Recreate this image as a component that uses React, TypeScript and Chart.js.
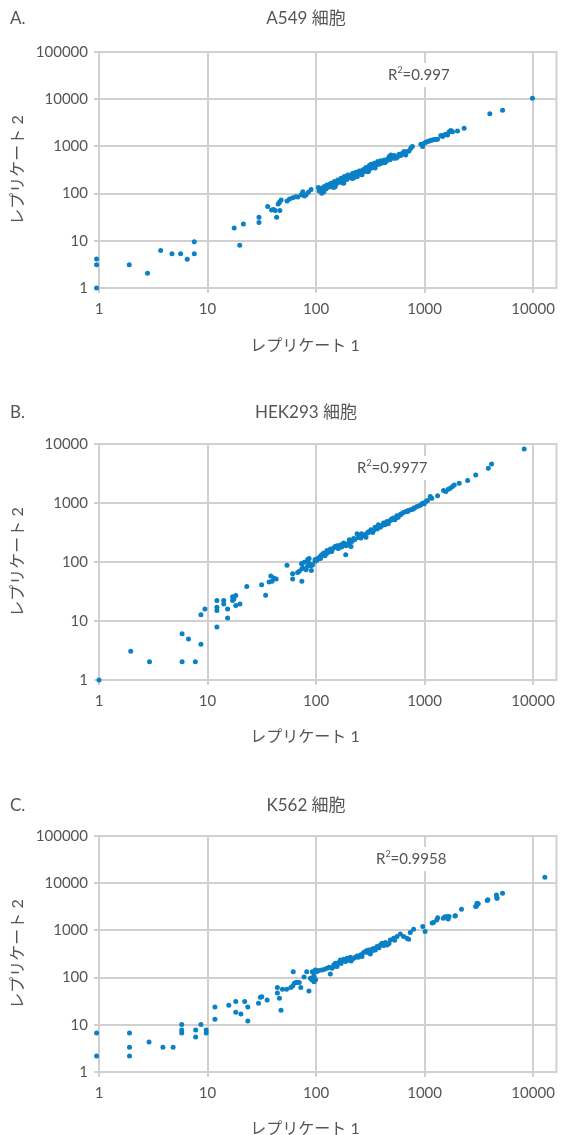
import React, { useEffect, useRef } from "react";
import { Chart, registerables } from "chart.js";

Chart.register(...registerables);

const FONT = "Lato, 'Noto Sans CJK JP', sans-serif";
const TEXT = "#555555";
const GRID = "#d0d0d0";
const POINT = "#0a80c6";

const decadeTicks = [1, 10, 100, 1000, 10000, 100000];
const xAxisTitle = "レプリケート 1";
const yAxisTitle = "レプリケート 2";
const panelLetters = ["A.", "B.", "C."];
const panelTitles = ["A549 細胞", "HEK293 細胞", "K562 細胞"];
const r2Values = ["0.997", "0.9977", "0.9958"];
const yMaxima = [100000, 10000, 100000];
const xMaximum = 16400;

const a549Rep1 = [
  0.95, 0.95, 0.95, 1.9, 2.8, 3.7, 4.7, 5.65, 6.5, 7.55, 7.55, 17.6, 19.8, 21.4, 29.8, 29.8, 35.8, 38.9, 40.5, 42, 43.3, 44.8, 46.4,
  46, 47.6, 54, 57, 61, 65, 68, 73, 75.4, 78, 81, 85, 90,
  107, 111, 113, 119, 124, 128, 133, 137.5, 142, 147.5, 153, 158.5, 164, 170, 176, 182,
  189, 196, 203, 210, 218, 225, 233, 242, 250, 259, 269, 278, 288, 299, 310, 321, 332, 344, 357,
  370, 383, 396, 410, 425, 440, 456, 472, 489, 506, 524, 543, 562, 582, 603, 625, 647, 670, 694, 719, 745, 771,
  925, 958, 993, 1028, 1065, 1103, 1143, 1184, 1226, 1270, 1316,
  1412, 1463, 1516, 1570, 1627, 1686, 1746, 1809, 2009, 2314,
  3990, 5230, 9860,
  115, 125, 135, 145, 155, 165, 175, 185, 195, 205, 215, 230, 240, 255, 265, 280, 300, 320, 340, 360,
  105, 118, 126, 139, 150, 160, 172, 180, 192, 200, 212, 222, 236, 248, 262, 275, 290, 305, 318, 335,
  350, 380, 400, 430, 450, 480, 520, 560, 600, 650,
];
const a549Rep2 = [
  4.1, 3.1, 1.0, 3.1, 2.05, 6.2, 5.3, 5.3, 4.05, 5.3, 9.6, 18.7, 8.0, 22.7, 31.5, 24.3, 53, 45, 46, 44, 31.5, 60, 44,
  65.5, 73, 70, 77, 82, 86, 85, 94, 110, 89, 94, 107, 122,
  114, 130, 102, 141, 126, 153, 138, 165, 148, 180, 158, 195, 174, 211, 185, 229,
  204, 249, 218, 241, 270, 229, 283, 257, 302, 270, 318, 293, 356, 318, 392, 419, 374, 439, 405,
  476, 432, 494, 461, 517, 476, 544, 608, 660, 579, 639, 562, 608, 683, 639, 712, 777, 660, 777, 802, 912, 990,
  1111, 990, 1166, 1224, 1265, 1306, 1349, 1371, 1394, 1394, 1417,
  1695, 1616, 1747, 1803, 1747, 2053, 2164, 2053, 2130, 2426,
  4890, 5850, 10500,
  125, 150, 160, 135, 175, 190, 170, 210, 225, 245, 210, 260, 230, 290, 250, 330, 290, 350, 400, 430,
  135, 110, 140, 150, 140, 180, 195, 165, 200, 230, 235, 215, 265, 280, 260, 300, 320, 300, 345, 360,
  350, 420, 440, 450, 500, 520, 560, 590, 660, 700,
];

const hek293Rep1 = [
  1, 1.96, 2.92, 5.83, 6.67, 5.83, 7.72, 8.69, 8.69, 9.46, 12.2, 12.2, 12.2, 12.2, 14.1, 14.1, 15.3, 15.3, 17, 17, 17.5, 18.2,
  18.2, 19.9, 23, 31.5, 34.3, 38.3, 36.9, 39.3, 40.8, 42.9, 54, 60.8, 60.8, 67.6, 74, 74, 74, 83.4, 83.4, 90.6, 86.3, 98,
  70, 73.8, 75.4, 78, 81, 83.8, 86.8, 90, 93,
  98, 102, 105, 109.6, 112.8, 117.7, 121, 126, 130, 135.5, 139.4, 145.4, 149.6, 156, 160.6, 167.5, 172, 179.6, 187.6, 189,
  195.6, 202.6, 207, 210,
  238.6, 250.6, 259, 268.7, 278.5, 288.5, 299, 309.7, 321, 332.4, 349.7, 365.2, 375, 390.8, 402, 419, 431, 449, 462, 482,
  496, 517, 532, 555, 571, 596, 613, 640, 673, 706, 749, 776, 804, 851, 894, 925, 958, 993, 1028, 1065, 1127, 1165,
  1317, 1496, 1571, 1650, 1723, 1806, 1875, 2085, 2493, 2958, 3862, 4142, 8270,
  215, 222, 228, 245, 262,
  110, 125, 140, 160, 175, 200, 225, 260, 300, 340, 380, 420, 460, 500, 550, 600, 700, 800,
];
const hek293Rep2 = [
  1, 3.08, 2.03, 6.08, 4.93, 2.03, 2.03, 4.05, 12.8, 16, 22.2, 17.1, 15, 7.9, 22.2, 19.5, 16, 11.2, 22.2, 25.7, 23.7, 27,
  18.3, 19.5, 38.5, 41, 27.4, 57.7, 45.6, 47.3, 53.8, 51.5, 87.7, 63.2, 51.5, 66.7, 93.7, 77, 47.3, 104, 85, 72, 115, 110,
  69.5, 94, 79, 98.7, 74, 110, 94, 86.7, 90,
  102.6, 106.7, 116.8, 124.7, 133, 142, 128, 157, 146, 166, 151, 172, 184, 189, 172, 194, 179, 209, 133, 189,
  204, 238, 215, 184,
  301, 272, 255, 279, 290, 264, 309, 330, 352, 317, 390, 362, 428, 390, 410, 456, 428, 486, 444, 506,
  533, 555, 520, 606, 576, 631, 656, 691, 718, 747, 765, 786, 816, 871, 894, 933, 993, 968, 1059, 1103, 1288, 1207,
  1322, 1627, 1565, 1713, 1782, 1900, 2028, 2164, 2399, 2992, 3878, 4590, 8230,
  225, 250, 240, 260, 300,
  115, 140, 160, 170, 200, 195, 245, 270, 320, 345, 400, 440, 470, 520, 560, 640, 720, 820,
];

const k562Rep1 = [
  0.95, 0.95, 1.91, 1.91, 1.91, 2.89, 3.88, 4.82, 5.78, 5.78, 5.78, 7.77, 7.77, 8.69, 9.72, 9.72, 11.7, 11.7, 15.7, 18.2,
  18.2, 20.3, 22, 23.5, 23.5, 29.5, 30.7, 31.6, 35.4, 44, 44, 46, 47.5, 49, 53.5, 58.5, 60.9, 61.6, 63, 65,
  67.6, 70, 72.3, 77.5, 82, 86, 92.4, 95.8, 95.8, 99,
  88.7, 91.9, 95.2, 96.5, 98.6, 102.1, 105.8, 113.5, 126.2, 135.4, 140.3, 145.3, 150.6, 156, 161.6, 167.5, 173.5, 179.8,
  186.2, 193, 200, 207, 214.6, 222, 230, 238.5, 255.8, 265, 274.5, 284.5, 294.7, 305.3, 316.4, 327.8, 339.6, 351.8, 364.5,
  377.7, 391.3, 405.4, 420, 435, 450.8, 483.8, 519, 557, 598, 641, 688, 713, 738, 792, 962, 1011, 1207, 1294, 1489, 1597,
  1906, 2187, 2954, 3040, 3774, 4592, 4660, 5226, 12830,
  1175, 1320, 1530, 1650, 1680, 1920, 3000, 3120, 3830, 4620,
  120, 132, 148, 170, 190, 210, 245, 260, 300, 330, 380, 420, 470, 530,
];
const k562Rep2 = [
  6.7, 2.18, 6.7, 3.33, 2.18, 4.33, 3.33, 3.33, 10.1, 7.8, 6.7, 7.8, 5.5, 10.1, 7.8, 6.7, 23.9, 13.1, 25.9, 31,
  18.4, 17, 31, 23.9, 12, 28.6, 38.3, 39.5, 33.6, 61.4, 47.3, 36.5, 20.3, 56.5, 56.5, 61.4, 66.3, 133, 75.9, 78.5,
  78.5, 78.5, 61.4, 103, 133, 52, 133, 103, 82, 89.5,
  96.8, 89.2, 108.5, 134, 145, 134, 140.7, 145, 157.6, 119.6, 157.6, 185.5, 201, 171, 208, 237, 229, 245,
  218, 257, 237, 270, 245, 257, 270, 288, 302, 279, 339, 356, 373, 385, 318, 399, 412, 385, 454,
  439, 493, 534, 493, 552, 493, 628, 681, 739, 842, 739, 681, 650, 898, 1058, 1204, 942, 1463, 1668, 1809,
  1962, 2027, 2803, 3198, 3763, 4283, 5634, 4795, 6109, 13360,
  1430, 1860, 1920, 1740, 1980, 2050, 3230, 3660, 4470, 4860,
  150, 165, 175, 200, 230, 225, 270, 300, 340, 370, 430, 480, 530, 620,
];

const panelRep1 = [a549Rep1, hek293Rep1, k562Rep1];
const panelRep2 = [a549Rep2, hek293Rep2, k562Rep2];

type PanelLayout = {
  canvasTop: number;
  height: number;
  padTop: number;
  padBottom: number;
  letterY: number;
  r2X: number;
  r2Y: number;
  xTitleY: number;
};

const layouts: PanelLayout[] = [
  { canvasTop: 0, height: 378, padTop: 52, padBottom: 50, letterY: 19, r2X: 388, r2Y: 75, xTitleY: 346 },
  { canvasTop: 378, height: 392, padTop: 66, padBottom: 50, letterY: 35, r2X: 357, r2Y: 90, xTitleY: 359 },
  { canvasTop: 770, height: 365, padTop: 66, padBottom: 23, letterY: 36, r2X: 376, r2Y: 89, xTitleY: 359 },
];

const decorPlugin = {
  id: "decor",
  beforeDatasetsDraw(chart: any, _args: any, opts: any) {
    const ctx = chart.ctx as CanvasRenderingContext2D;
    const a = chart.chartArea;
    ctx.save();
    ctx.strokeStyle = GRID;
    ctx.lineWidth = 2;
    ctx.strokeRect(a.left, a.top, a.right - a.left, a.bottom - a.top);

    const big = `15px ${FONT}`;
    const small = `9px ${FONT}`;
    ctx.font = big;
    const rW = ctx.measureText("R").width;
    const rest = "=" + opts.r2;
    const restW = ctx.measureText(rest).width;
    ctx.font = small;
    const sW = ctx.measureText("2").width;
    const total = rW + sW + restW;
    ctx.fillStyle = "#ffffff";
    ctx.fillRect(opts.r2X - 4, opts.r2Y - 12, total + 8, 24);
    ctx.fillStyle = TEXT;
    ctx.textBaseline = "middle";
    ctx.textAlign = "left";
    ctx.font = big;
    ctx.fillText("R", opts.r2X, opts.r2Y);
    ctx.font = small;
    ctx.fillText("2", opts.r2X + rW, opts.r2Y - 5);
    ctx.font = big;
    ctx.fillText(rest, opts.r2X + rW + sW, opts.r2Y);
    ctx.restore();
  },
  afterDraw(chart: any, _args: any, opts: any) {
    const ctx = chart.ctx as CanvasRenderingContext2D;
    const a = chart.chartArea;
    ctx.save();
    ctx.fillStyle = TEXT;
    ctx.textBaseline = "middle";
    ctx.font = `17px ${FONT}`;
    ctx.textAlign = "left";
    ctx.fillText(opts.letter, 10, opts.letterY);
    ctx.textAlign = "center";
    ctx.fillText(opts.title, 306, opts.letterY);
    ctx.font = `16px ${FONT}`;
    ctx.fillText(xAxisTitle, 305, opts.xTitleY);
    ctx.translate(18, (a.top + a.bottom) / 2);
    ctx.rotate(-Math.PI / 2);
    ctx.fillText(yAxisTitle, 0, 0);
    ctx.restore();
  },
};

function Panel({ index }: { index: number }) {
  const ref = useRef<HTMLCanvasElement | null>(null);
  const lay = layouts[index];
  useEffect(() => {
    if (!ref.current) return;
    const rep1 = panelRep1[index];
    const rep2 = panelRep2[index];
    const points = rep1.map((x, i) => ({ x, y: rep2[i] }));
    const tickFont = { family: FONT, size: 15 };
    const chart = new Chart(ref.current, {
      type: "scatter",
      data: {
        datasets: [
          {
            data: points,
            backgroundColor: POINT,
            borderWidth: 0,
            pointRadius: 2.5,
            pointHoverRadius: 2.5,
            clip: false as any,
          },
        ],
      },
      options: {
        animation: false,
        responsive: false,
        events: [],
        layout: { padding: { top: lay.padTop, bottom: lay.padBottom, left: 0, right: 1 } },
        plugins: {
          legend: { display: false },
          tooltip: { enabled: false },
          decor: {
            letter: panelLetters[index],
            title: panelTitles[index],
            r2: r2Values[index],
            r2X: lay.r2X,
            r2Y: lay.r2Y,
            letterY: lay.letterY,
            xTitleY: lay.xTitleY,
          },
        } as any,
        scales: {
          x: {
            type: "logarithmic",
            min: 1,
            max: xMaximum,
            afterBuildTicks: (s: any) => {
              s.ticks = decadeTicks.filter((v) => v <= s.max).map((v) => ({ value: v }));
            },
            afterFit: (s: any) => {
              s.height = 40;
            },
            ticks: {
              callback: (v: any) => String(v),
              font: tickFont,
              color: TEXT,
              padding: 7,
              autoSkip: false,
              maxRotation: 0,
              minRotation: 0,
            },
            grid: { color: GRID, lineWidth: 2, tickLength: 5 },
            border: { display: false },
          },
          y: {
            type: "logarithmic",
            min: 1,
            max: yMaxima[index],
            afterBuildTicks: (s: any) => {
              s.ticks = decadeTicks.filter((v) => v <= s.max).map((v) => ({ value: v }));
            },
            afterFit: (s: any) => {
              s.width = 99;
            },
            ticks: {
              callback: (v: any) => String(v),
              font: tickFont,
              color: TEXT,
              padding: 6,
              autoSkip: false,
            },
            grid: { color: GRID, lineWidth: 2, tickLength: 5 },
            border: { display: false },
          },
        },
      } as any,
      plugins: [decorPlugin as any],
    });
    return () => chart.destroy();
  }, [index]);
  return (
    <canvas
      ref={ref}
      width={562}
      height={lay.height}
      style={{ position: "absolute", left: 0, top: lay.canvasTop, width: 562, height: lay.height, display: "block" }}
    />
  );
}

export default function App() {
  return (
    <div style={{ position: "relative", width: 562, height: 1135, background: "#ffffff" }}>
      <style>{`body{margin:0;background:#ffffff;}`}</style>
      <Panel index={0} />
      <Panel index={1} />
      <Panel index={2} />
    </div>
  );
}
